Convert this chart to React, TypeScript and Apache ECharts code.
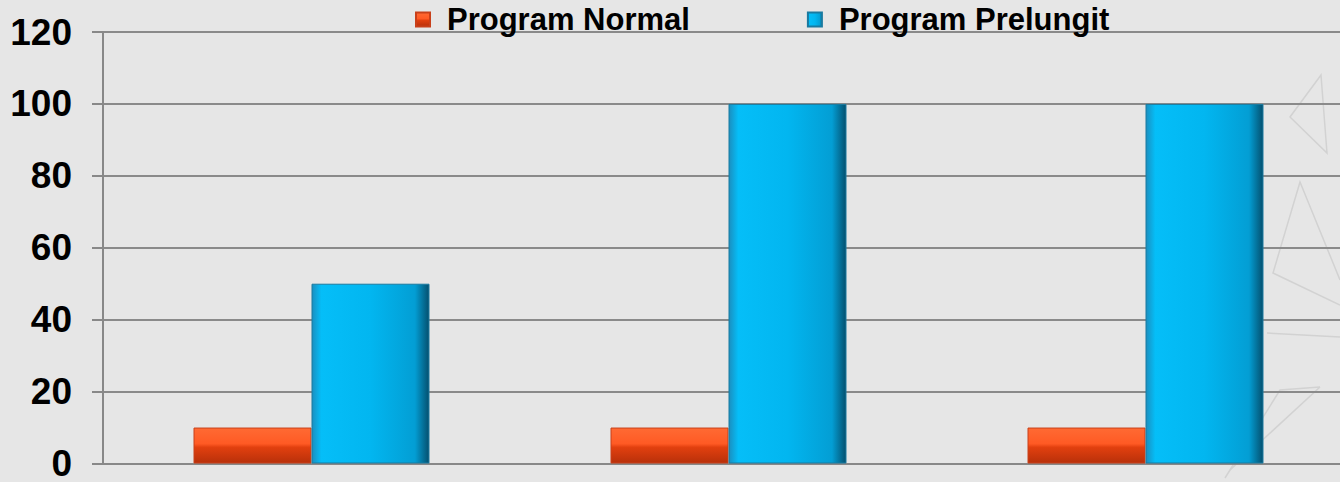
import React, { useEffect, useRef } from "react";
import * as echarts from "echarts";

const categories = ["A", "B", "C"];
const seriesNames = ["Program Normal", "Program Prelungit"];
const normalValues = [10, 10, 10];
const prelungitValues = [50, 100, 100];
const yTicks = { min: 0, max: 120, interval: 20 };

export default function App() {
  const ref = useRef<HTMLDivElement>(null);
  useEffect(() => {
    if (!ref.current) return;
    const chart = echarts.init(ref.current, null, { renderer: "svg" });
    const redGrad = new echarts.graphic.LinearGradient(0, 0, 0, 1, [
      { offset: 0, color: "#ff6a33" },
      { offset: 0.45, color: "#ff5a24" },
      { offset: 0.55, color: "#e2400f" },
      { offset: 1, color: "#b8300a" },
    ]);
    const blueGrad = new echarts.graphic.LinearGradient(0, 0, 1, 0, [
      { offset: 0, color: "#1a8fc0" },
      { offset: 0.08, color: "#05bef8" },
      { offset: 0.5, color: "#02b6f0" },
      { offset: 0.88, color: "#039ed4" },
      { offset: 1, color: "#04506f" },
    ]);
    const stroke = { stroke: "#d2d2d2", lineWidth: 1.5, fill: "none" };
    chart.setOption({
      animation: false,
      backgroundColor: "#e6e6e6",
      textStyle: { fontFamily: "Liberation Sans, Arial, sans-serif" },
      legend: {
        left: 410,
        top: 0,
        padding: [4, 5, 5, 5],
        itemWidth: 14,
        itemHeight: 14,
        itemGap: 117,
        icon: "rect",
        textStyle: {
          fontSize: 31,
          fontWeight: "bold",
          color: "#000",
          padding: [0, 0, 0, 12],
        },
        data: seriesNames,
      },
      grid: { left: 103, top: 32, width: 1251, height: 433 },
      xAxis: {
        type: "category",
        data: categories,
        axisLine: { lineStyle: { color: "#888", width: 2 } },
        axisTick: { show: false },
        axisLabel: { show: false },
      },
      yAxis: {
        type: "value",
        min: yTicks.min,
        max: yTicks.max,
        interval: yTicks.interval,
        axisLine: { show: true, lineStyle: { color: "#888", width: 2 } },
        axisTick: { show: true, length: 11, lineStyle: { color: "#888", width: 2 } },
        splitLine: { lineStyle: { color: "#8a8a8a", width: 2 } },
        axisLabel: { fontSize: 37, fontWeight: "bold", color: "#000", margin: 31 },
      },
      graphic: [
        { type: "polygon", shape: { points: [[1321, 75], [1290, 117], [1327, 153]] }, style: stroke, silent: true, z: -1 },
        { type: "polyline", shape: { points: [[1340, 305], [1273, 273], [1300, 182], [1340, 280]] }, style: stroke, silent: true, z: -1 },
        { type: "polyline", shape: { points: [[1267, 333], [1340, 337]] }, style: stroke, silent: true, z: -1 },
        { type: "polyline", shape: { points: [[1320, 387], [1280, 390], [1225, 478]] }, style: stroke, silent: true, z: -1 },
        { type: "polyline", shape: { points: [[1320, 387], [1230, 470]] }, style: stroke, silent: true, z: -1 },
      ],
      series: [
        {
          name: seriesNames[0],
          type: "bar",
          data: normalValues,
          barWidth: 118,
          barGap: "0%",
          itemStyle: { color: redGrad, borderColor: "#c8401a", borderWidth: 1 },
        },
        {
          name: seriesNames[1],
          type: "bar",
          data: prelungitValues,
          barWidth: 118,
          barGap: "0%",
          itemStyle: { color: blueGrad, borderColor: "#1a7aa0", borderWidth: 1 },
        },
      ],
    });
    return () => chart.dispose();
  }, []);
  return (
    <div
      style={{ position: "absolute", left: 0, top: 0, width: 1340, height: 482, overflow: "hidden" }}
    >
      <div ref={ref} style={{ width: 1360, height: 482 }} />
    </div>
  );
}
